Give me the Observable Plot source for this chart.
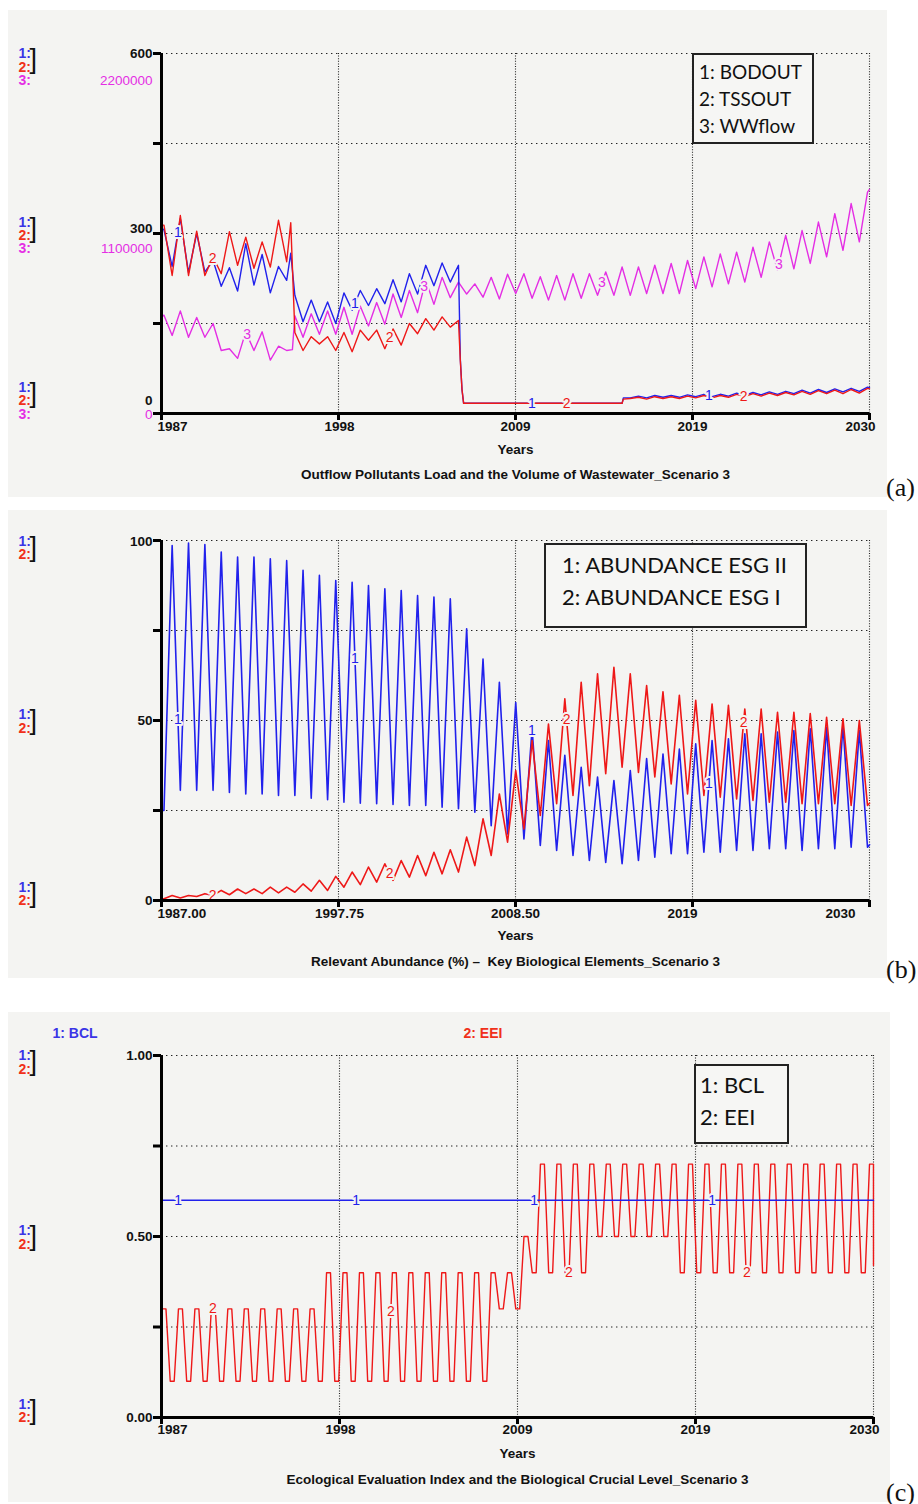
<!DOCTYPE html>
<html>
<head>
<meta charset="utf-8">
<script src="https://cdn.jsdelivr.net/npm/d3@7"></script>
<script src="https://cdn.jsdelivr.net/npm/@observablehq/plot@0.6"></script>
<style>
  html, body { margin: 0; padding: 0; background: #ffffff; }
  body { position: relative; width: 918px; height: 1504px; overflow: hidden; }
  .panel { position: absolute; background: #f4f4f2; }
  .panel svg { display: block; overflow: visible; }
  .legend { position: absolute; box-sizing: border-box; border: 2px solid #222; background: #f6f6f4;
            font-family: Lato, "Open Sans", sans-serif; color: #111; white-space: nowrap; }
  .letter { position: absolute; font-family: "Liberation Serif", "Times New Roman", serif;
            font-size: 26px; line-height: 26px; color: #111; }
</style>
</head>
<body>
<div id="pa" class="panel" style="left:8px;top:10px;width:879px;height:487px"></div>
<div id="pb" class="panel" style="left:8px;top:510px;width:879px;height:468px"></div>
<div id="pc" class="panel" style="left:8px;top:1012px;width:882px;height:490px"></div>
<div id="legends"></div>
<div class="letter" style="left:886px;top:475px">(a)</div>
<div class="letter" style="left:886px;top:957px">(b)</div>
<div class="letter" style="left:886px;top:1480px">(c)</div>
<script>
// ---------------- DATA ----------------
// Simulation cycles: one value per annual cycle (peak / trough).
// Panel (a): Outflow pollutants load (BODOUT, TSSOUT) and wastewater volume (WWflow)
const seriesNamesA = ["BODOUT", "TSSOUT", "WWflow"];
const bodPeaks = [306, 325, 300, 255, 243, 283, 265, 245, 197, 189, 186, 201, 205, 208, 223, 233, 247, 251, 247,
  17, 17, 17, 17, 17, 17, 17, 17, 17, 17, 29, 30, 30, 31, 32, 32, 34, 35, 36, 37, 39, 40, 41, 42, 44];
const bodTroughs = [245, 235, 236, 212, 204, 214, 201, 222, 153, 153, 150, 172, 180, 183, 186, 199, 213, 219,
  17, 17, 17, 17, 17, 17, 17, 17, 17, 17, 26, 26, 27, 27, 28, 28, 29, 30, 31, 32, 33, 34, 35, 36, 37];
const bodTransitions = [[1987, 310], [1994.85, 267], [2005.15, 90], [2005.25, 40], [2005.35, 17], [2015.05, 26], [2030, 43]];
const tssPeaks = [314, 330, 304, 261, 303, 294, 286, 322, 135, 128, 128, 135, 139, 139, 141, 150, 158, 161, 155,
  17, 17, 17, 17, 17, 17, 17, 17, 17, 17, 27, 28, 28, 29, 30, 30, 32, 33, 34, 35, 37, 38, 39, 40, 42];
const tssTroughs = [230, 230, 230, 233, 247, 242, 244, 253, 105, 116, 105, 103, 122, 108, 114, 133, 139, 144,
  17, 17, 17, 17, 17, 17, 17, 17, 17, 17, 25, 24, 25, 25, 26, 26, 27, 28, 29, 30, 31, 32, 33, 33, 34];
const tssTransitions = [[1987, 314], [1994.85, 318], [2005.15, 88], [2005.25, 40], [2005.35, 17], [2015.05, 24], [2030, 41]];
const wwPeaks = [601000, 627000, 587000, 550000, 396000, 499000, 499000, 411000, 598000, 609000, 627000, 649000,
  656000, 678000, 730000, 752000, 814000, 832000, 803000, 792000, 832000, 851000, 854000, 836000, 843000, 854000,
  854000, 865000, 895000, 895000, 906000, 917000, 935000, 957000, 975000, 986000, 1016000, 1049000, 1089000,
  1118000, 1170000, 1221000, 1283000, 1353000];
const wwTroughs = [477000, 466000, 466000, 385000, 337000, 385000, 326000, 385000, 466000, 484000, 484000, 484000,
  535000, 546000, 587000, 616000, 667000, 708000, 730000, 711000, 700000, 733000, 704000, 693000, 693000, 704000,
  722000, 722000, 722000, 733000, 733000, 733000, 763000, 774000, 792000, 803000, 832000, 876000, 884000, 917000,
  957000, 997000, 1049000];
const wwTransitions = [[1987, 590000], [1994.95, 390000], [2030, 1370000]];
const yTickLabelsA12 = ["0", "300", "600"];
const yTickLabelsA3 = ["0", "1100000", "2200000"];
const xTickLabelsA = ["1987", "1998", "2009", "2019", "2030"];
const captionA = "Outflow Pollutants Load and the Volume of Wastewater_Scenario 3";

// Panel (b): relevant abundance (%) of key biological elements
const seriesNamesB = ["ABUNDANCE ESG II", "ABUNDANCE ESG I"];
const esg2Troughs = [25, 30.6, 30.6, 30.6, 30, 29.6, 29.6, 29.2, 29.2, 28.4, 28, 27.3, 27, 26.9, 26.7, 26.4, 26.4,
  25.9, 25.5, 24.5, 20.8, 18.5, 17.1, 15.3, 13.9, 12.5, 11.1, 10.6, 10.2, 11.1, 12, 13, 13, 13.4, 13.4, 13.9, 13.9,
  14.4, 14.4, 13.9, 14.4, 14.4, 14.8, 14.8];
const esg2Peaks = [98.6, 99.3, 98.9, 96.8, 95.4, 95.4, 94.9, 94.4, 91.7, 90.3, 88.9, 88.4, 87.5, 86.6, 86.1, 84.7,
  84.3, 83.8, 75.5, 67.1, 60.6, 55, 47.7, 44.4, 40.3, 37, 34.3, 33.3, 36.1, 39.4, 40.7, 42.1, 43.5, 44.4, 44.9,
  46.3, 46.3, 46.8, 47.2, 47.7, 48.1, 48.6, 47.2];
const esg2Transitions = [[1987, 25], [2030, 15.5]];
const esg1Troughs = [0.5, 0.7, 1.1, 1.4, 1.6, 1.9, 1.9, 2.1, 2.3, 2.6, 2.8, 3.7, 4.4, 5.1, 5.6, 6.5, 6.9, 7.4, 7.9,
  9.7, 12.5, 16.2, 19.9, 23.6, 26.9, 29.2, 31.9, 35.2, 37, 35.6, 34.3, 32.4, 29.6, 29.2, 28.7, 28.2, 27.8, 27.3,
  27.3, 26.9, 26.9, 26.9, 26.4, 26.4];
const esg1Peaks = [1.4, 1.4, 1.9, 2.8, 3.2, 3.2, 3.7, 3.7, 4.6, 5.6, 6.7, 7.9, 9.3, 10.2, 11.1, 12.5, 13.4, 14.1,
  17.6, 22.7, 29.6, 36.1, 44.4, 49, 56, 60.6, 63, 64.8, 63, 59.7, 58, 57, 55.6, 54.6, 54.2, 53.2, 53.2, 52.3, 52.3,
  51.9, 50.9, 50.5, 50];
const esg1Transitions = [[1987, 0.5], [2030, 27]];
const yTickLabelsB = ["0", "50", "100"];
const xTickLabelsB = ["1987.00", "1997.75", "2008.50", "2019", "2030"];
const captionB = "Relevant Abundance (%) \u2013  Key Biological Elements_Scenario 3";

// Panel (c): Ecological Evaluation Index and Biological Crucial Level
const seriesNamesC = ["BCL", "EEI"];
const bclYears = [1987, 2030];
const bclValues = [0.6, 0.6];
const eeiPeaks = [0.3, 0.3, 0.3, 0.3, 0.3, 0.3, 0.3, 0.3, 0.3, 0.3,
  0.4, 0.4, 0.4, 0.4, 0.4, 0.4, 0.4, 0.4, 0.4, 0.4, 0.4, 0.4, 0.5,
  0.7, 0.7, 0.7, 0.7, 0.7, 0.7, 0.7, 0.7, 0.7, 0.7, 0.7, 0.7, 0.7, 0.7, 0.7, 0.7, 0.7, 0.7, 0.7, 0.7, 0.7];
const eeiTroughs = [0.1, 0.1, 0.1, 0.1, 0.1, 0.1, 0.1, 0.1, 0.1, 0.1, 0.1, 0.1, 0.1, 0.1, 0.1, 0.1, 0.1, 0.1, 0.1, 0.1,
  0.3, 0.3, 0.4, 0.4, 0.4, 0.4, 0.5, 0.5, 0.5, 0.5, 0.5,
  0.4, 0.4, 0.4, 0.4, 0.4, 0.4, 0.4, 0.4, 0.4, 0.4, 0.4, 0.4];
const eeiTransitions = [[1987, 0.3], [2030, 0.42]];
const yTickLabelsC = ["0.00", "0.50", "1.00"];
const xTickLabelsC = ["1987", "1998", "2009", "2019", "2030"];
const captionC = "Ecological Evaluation Index and the Biological Crucial Level_Scenario 3";

// ---------------- LAYOUT / STYLE ----------------
const FONT = "'Liberation Sans', Arial, sans-serif";
const BG = "#f4f4f2";
const BLUE = "#2121ec", RED = "#ee1818", MAG = "#e42ee4";
const C1 = "#3b34e6", C2 = "#f0301a", C3 = "#e42ee4";
const xTicks = [1987, 1997.75, 2008.5, 2019.25, 2030];
const T0 = 1987.15, PERIOD = 0.9937; // cycle timing of the simulation output
const labelX1 = [1988.0, 1998.75, 2009.5, 2020.25];
const labelX2 = [1990.1, 2000.85, 2011.6, 2022.35];
const labelX3 = [1992.2, 2002.95, 2013.75, 2024.5];
const FS = 13.5;

function cyclePoints(peaks, troughs, peakPhases, troughPhases, transitions) {
  const pts = [];
  peaks.forEach((v, k) => peakPhases.forEach(p => pts.push({t: T0 + (k + p) * PERIOD, v})));
  troughs.forEach((v, k) => troughPhases.forEach(p => pts.push({t: T0 + (k + p) * PERIOD, v})));
  transitions.forEach(([t, v]) => pts.push({t, v}));
  return pts.filter(d => d.t >= 1987 && d.t <= 2030).sort((a, b) => a.t - b.t);
}
function valueAt(pts, t) {
  const i = d3.bisector(d => d.t).left(pts, t);
  if (i <= 0) return pts[0].v;
  if (i >= pts.length) return pts[pts.length - 1].v;
  const a = pts[i - 1], b = pts[i];
  return a.v + (b.v - a.v) * (t - a.t) / (b.t - a.t);
}

function makePanel(o) {
  const marks = [];
  const yGrid = o.yTicks.slice(1);
  marks.push(Plot.ruleY(yGrid, {stroke: "#222", strokeWidth: 1.2, strokeDasharray: "1.4,3.6"}));
  marks.push(Plot.ruleX(xTicks.slice(1), {stroke: "#222", strokeWidth: 1.1, strokeDasharray: "1,1.6"}));
  for (const s of o.series) {
    marks.push(Plot.line(s.pts, {x: "t", y: s.yf ? (d => s.yf(d.v)) : "v", stroke: s.color, strokeWidth: o.lw || 1.4}));
  }
  for (const s of o.series) {
    marks.push(Plot.text(s.labelYears, {
      x: d => d, y: d => (s.yf ? s.yf(valueAt(s.pts, d)) : valueAt(s.pts, d)),
      text: () => s.num, fill: s.color, stroke: BG, strokeWidth: 4, paintOrder: "stroke",
      fontSize: 14, fontFamily: FONT
    }));
  }
  marks.push(Plot.ruleX([1987], {stroke: "#000", strokeWidth: 3}));
  marks.push(Plot.ruleY([o.yTicks[0]], {stroke: "#000", strokeWidth: 3}));
  marks.push(Plot.axisY({ticks: o.yTicks, tickSize: 8, strokeWidth: 3, tickFormat: () => "", label: null}));
  marks.push(Plot.axisX({ticks: xTicks, tickSize: 7, strokeWidth: 3, tickFormat: () => "", label: null}));
  const txt = {fontFamily: FONT, fontWeight: "bold", fontSize: FS, fill: "#111"};
  xTicks.forEach((t, i) => {
    marks.push(Plot.text([t], {x: d => d, frameAnchor: "bottom", dy: o.tickDy, dx: o.xSpec[i].dx,
      textAnchor: o.xSpec[i].anchor, text: () => o.xLabels[i], ...txt}));
  });
  marks.push(Plot.text(["Years"], {x: () => 2008.5, frameAnchor: "bottom", dy: o.yearsDy, text: d => d, ...txt}));
  marks.push(Plot.text([o.caption], {x: () => 2008.5, frameAnchor: "bottom", dy: o.capDy, text: d => d, ...txt}));
  for (const g of o.left) {
    g.rows.forEach(r => marks.push(Plot.text([g.v], {y: d => d, frameAnchor: "left", dx: -143, dy: r.dy,
      textAnchor: "start", text: () => r.t, ...txt, fontSize: 14, fill: r.c})));
    marks.push(Plot.text([g.v], {y: d => d, frameAnchor: "left", dx: -132, dy: g.bracketDy,
      textAnchor: "start", text: () => "]", fontFamily: FONT, fontSize: 27, fill: "#111"}));
    g.vals.forEach(r => marks.push(Plot.text([g.v], {y: d => d, frameAnchor: "left", dx: -9, dy: r.dy,
      textAnchor: "end", text: () => r.t, ...txt, fontWeight: r.c === "#111" ? "bold" : "normal", fill: r.c})));
  }
  (o.extra || []).forEach(m => marks.push(m));
  return Plot.plot({
    width: o.width, height: o.height,
    marginLeft: o.m[0], marginRight: o.m[1], marginTop: o.m[2], marginBottom: o.m[3],
    x: {domain: [1987, 2030]}, y: {domain: [o.yTicks[0], o.yTicks[4]]},
    style: {background: "transparent", fontFamily: FONT, overflow: "visible"},
    marks
  });
}

// ---------- Panel (a) ----------
const bodPts = cyclePoints(bodPeaks, bodTroughs, [0], [0.5], bodTransitions);
const tssPts = cyclePoints(tssPeaks, tssTroughs, [0], [0.5], tssTransitions);
const wwPts = cyclePoints(wwPeaks, wwTroughs, [0], [0.5], wwTransitions);
const wwToY = v => v * 600 / 2200000;
document.getElementById("pa").append(makePanel({
  width: 879, height: 487, m: [153, 18, 43, 84],
  yTicks: [0, 150, 300, 450, 600],
  series: [
    {pts: wwPts, yf: wwToY, color: MAG, num: "3", labelYears: labelX3},
    {pts: bodPts, color: BLUE, num: "1", labelYears: labelX1},
    {pts: tssPts, color: RED, num: "2", labelYears: labelX2}
  ],
  xLabels: xTickLabelsA,
  xSpec: [{anchor: "start", dx: -4}, {anchor: "middle", dx: 1}, {anchor: "middle", dx: 0}, {anchor: "middle", dx: 0}, {anchor: "end", dx: 6}],
  tickDy: 17, yearsDy: 40, capDy: 65, caption: captionA,
  left: [
    {v: 600, rows: [{t: "1:", c: C1, dy: 0}, {t: "2:", c: C2, dy: 14}, {t: "3:", c: C3, dy: 27}], bracketDy: 6,
     vals: [{t: yTickLabelsA12[2], c: "#111", dy: 0}, {t: yTickLabelsA3[2], c: MAG, dy: 27}]},
    {v: 300, rows: [{t: "1:", c: C1, dy: -11}, {t: "2:", c: C2, dy: 2}, {t: "3:", c: C3, dy: 15}], bracketDy: -5,
     vals: [{t: yTickLabelsA12[1], c: "#111", dy: -5}, {t: yTickLabelsA3[1], c: MAG, dy: 15}]},
    {v: 0, rows: [{t: "1:", c: C1, dy: -26}, {t: "2:", c: C2, dy: -13}, {t: "3:", c: C3, dy: 1}], bracketDy: -20,
     vals: [{t: yTickLabelsA12[0], c: "#111", dy: -13}, {t: yTickLabelsA3[0], c: MAG, dy: 1}]}
  ]
}));

// ---------- Panel (b) ----------
const esg2Pts = cyclePoints(esg2Peaks, esg2Troughs, [0.5], [0], esg2Transitions);
const esg1Pts = cyclePoints(esg1Peaks, esg1Troughs, [0.5], [0], esg1Transitions);
document.getElementById("pb").append(makePanel({
  width: 879, height: 468, m: [153, 18, 30, 78], lw: 1.6,
  yTicks: [0, 25, 50, 75, 100],
  series: [
    {pts: esg2Pts, color: BLUE, num: "1", labelYears: labelX1},
    {pts: esg1Pts, color: RED, num: "2", labelYears: labelX2}
  ],
  xLabels: xTickLabelsB,
  xSpec: [{anchor: "start", dx: -4}, {anchor: "middle", dx: 1}, {anchor: "middle", dx: 0}, {anchor: "start", dx: -25}, {anchor: "start", dx: -44}],
  tickDy: 17, yearsDy: 39, capDy: 65, caption: captionB,
  left: [
    {v: 100, rows: [{t: "1:", c: C1, dy: 1}, {t: "2:", c: C2, dy: 14}], bracketDy: 7,
     vals: [{t: yTickLabelsB[2], c: "#111", dy: 1}]},
    {v: 50, rows: [{t: "1:", c: C1, dy: -6}, {t: "2:", c: C2, dy: 8}], bracketDy: 0,
     vals: [{t: yTickLabelsB[1], c: "#111", dy: 0}]},
    {v: 0, rows: [{t: "1:", c: C1, dy: -13}, {t: "2:", c: C2, dy: 0}], bracketDy: -7,
     vals: [{t: yTickLabelsB[0], c: "#111", dy: 0}]}
  ]
}));

// ---------- Panel (c) ----------
const bclPts = bclYears.map((t, i) => ({t, v: bclValues[i]}));
const eeiPts = cyclePoints(eeiPeaks, eeiTroughs, [-0.12, 0.12], [0.38, 0.62], eeiTransitions);
document.getElementById("pc").append(makePanel({
  width: 882, height: 490, m: [153, 17, 43, 85],
  yTicks: [0, 0.25, 0.5, 0.75, 1],
  series: [
    {pts: eeiPts, color: RED, num: "2", labelYears: labelX2},
    {pts: bclPts, color: BLUE, num: "1", labelYears: labelX1}
  ],
  xLabels: xTickLabelsC,
  xSpec: [{anchor: "start", dx: -4}, {anchor: "middle", dx: 1}, {anchor: "middle", dx: 0}, {anchor: "middle", dx: 0}, {anchor: "end", dx: 6}],
  tickDy: 16, yearsDy: 40, capDy: 66, caption: captionC,
  left: [
    {v: 1, rows: [{t: "1:", c: C1, dy: 0}, {t: "2:", c: C2, dy: 14}], bracketDy: 6,
     vals: [{t: yTickLabelsC[2], c: "#111", dy: 0}]},
    {v: 0.5, rows: [{t: "1:", c: C1, dy: -6}, {t: "2:", c: C2, dy: 8}], bracketDy: 0,
     vals: [{t: yTickLabelsC[1], c: "#111", dy: 0}]},
    {v: 0, rows: [{t: "1:", c: C1, dy: -13}, {t: "2:", c: C2, dy: 0}], bracketDy: -7,
     vals: [{t: yTickLabelsC[0], c: "#111", dy: 0}]}
  ],
  extra: [
    Plot.text(["1: " + seriesNamesC[0]], {frameAnchor: "top-left", dx: -109, dy: -27, textAnchor: "start",
      text: d => d, fill: C1, fontFamily: FONT, fontWeight: "bold", fontSize: 14}),
    Plot.text(["2: " + seriesNamesC[1]], {frameAnchor: "top-left", dx: 302, dy: -27, textAnchor: "start",
      text: d => d, fill: C2, fontFamily: FONT, fontWeight: "bold", fontSize: 14})
  ]
}));

// ---------- Legends ----------
function legend(names, style) {
  const div = document.createElement("div");
  div.className = "legend";
  Object.assign(div.style, style);
  div.innerHTML = names.map((n, i) => `${i + 1}: ${n}`).join("<br>");
  document.getElementById("legends").append(div);
}
legend(seriesNamesA, {left: "692px", top: "53px", width: "122px", height: "91px", padding: "3px 0 0 5px", fontSize: "19px", lineHeight: "27px"});
legend(seriesNamesB, {left: "544px", top: "543px", width: "263px", height: "85px", padding: "4px 0 0 16px", fontSize: "22px", lineHeight: "32px"});
legend(seriesNamesC, {left: "694px", top: "1064px", width: "95px", height: "80px", padding: "3px 0 0 4px", fontSize: "22px", lineHeight: "32px"});
</script>
</body>
</html>
